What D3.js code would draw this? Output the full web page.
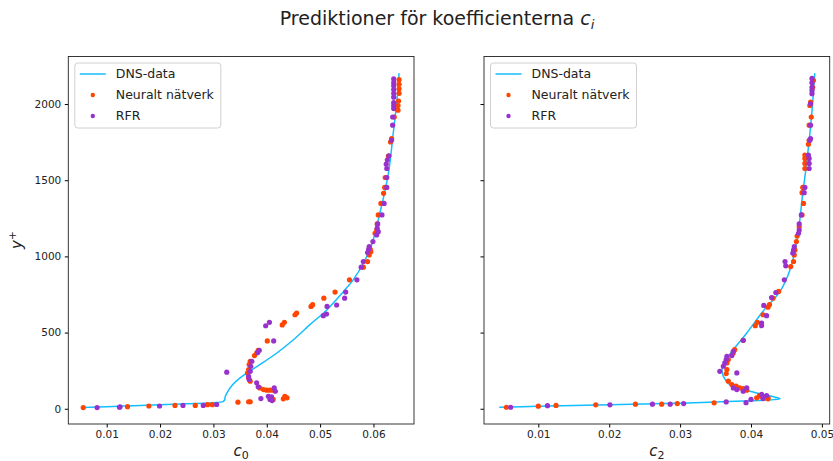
<!DOCTYPE html>
<html>
<head>
<meta charset="utf-8">
<script src="https://cdn.jsdelivr.net/npm/d3@7"></script>
<style>
  body { margin: 0; background: #fff; }
  text { font-family: "DejaVu Sans", sans-serif; fill: #222; }
</style>
</head>
<body>
<script>
// DNS profiles, [c, y+]
const dnsC0 = [[0.0056,8],[0.010,14],[0.015,20],[0.020,27],[0.025,33],[0.030,40],[0.0318,47],[0.0321,58],[0.0322,78],[0.0326,108],
  [0.0336,158],[0.035,203],[0.0365,240],[0.0387,290],[0.0419,366],[0.045,453],[0.0481,552],[0.0513,650],[0.0544,770],[0.0562,846],
  [0.0581,955],[0.0596,1070],[0.0612,1283],[0.0628,1545],[0.0637,1806],[0.0644,2024],[0.0648,2203]];
const dnsC2 = [[0.0045,10],[0.010,16],[0.015,22],[0.020,27],[0.025,32],[0.030,37],[0.035,44],[0.040,53],[0.0432,60],[0.0441,66],
  [0.0434,76],[0.0422,89],[0.0405,107],[0.0389,126],[0.037,159],[0.0361,213],[0.0359,257],[0.0363,312],[0.0375,388],[0.0394,497],
  [0.0417,640],[0.0441,770],[0.0455,912],[0.0465,1108],[0.0473,1414],[0.0479,1632],[0.0485,1900],[0.049,2203]];

// predictions, neural network
const nnC0 = [[0.0056,8],[0.0139,14],[0.0179,18],[0.0228,22],[0.0266,22],[0.0289,27],[0.0298,27],[0.0346,43],[0.0366,46],[0.0369,46],
  [0.0412,61],[0.0431,65],[0.0438,72],[0.0434,82],
  [0.0387,137],[0.0394,126],[0.04,122],[0.0406,122],[0.0412,122],
  [0.0369,181],[0.0366,203],[0.0364,235],[0.0366,257],[0.0367,290],[0.0369,312],
  [0.0377,349],[0.0381,366],[0.0384,384],
  [0.0401,445],[0.0429,550],[0.0433,567],[0.0453,617],[0.0456,628],[0.0483,672],[0.0486,683],[0.0507,726],[0.0528,766],[0.0555,846],
  [0.0581,929],[0.0589,966],[0.0592,1010],[0.0595,1031],[0.0594,1047],[0.0603,1152],[0.0606,1173],[0.0607,1213],[0.0609,1272],
  [0.0614,1348],[0.0619,1414],[0.0621,1453],[0.0622,1518],[0.0628,1658],[0.0632,1751],[0.0634,1773],[0.0639,1915],
  [0.0646,1960],[0.0646,1990],[0.0647,2020],[0.0648,2070],[0.0648,2100],[0.0648,2130],[0.0648,2160]];
const nnC2 = [[0.0055,10],[0.01,17],[0.0125,22],[0.0181,26],[0.0237,30],[0.0274,30],[0.0296,34],[0.0348,39],
  [0.0408,72],[0.0412,87],[0.0414,82],[0.0417,72],[0.0424,72],[0.0424,65],
  [0.0368,181],[0.0373,159],[0.0379,148],[0.0384,137],[0.0389,133],[0.0394,122],
  [0.0366,301],[0.0368,323],[0.0366,257],[0.0365,231],[0.0375,366],[0.0377,388],[0.0389,449],
  [0.0406,545],[0.0409,567],[0.0417,617],[0.0424,667],[0.0426,683],[0.0431,726],[0.0439,770],[0.0456,933],[0.046,966],
  [0.0461,1010],[0.0462,1042],[0.0464,1097],[0.0465,1134],[0.0468,1195],
  [0.0472,1272],[0.0474,1348],[0.0472,1418],[0.0473,1453],[0.0476,1577],[0.0476,1610],[0.0476,1643],[0.0476,1665],
  [0.0481,1736],[0.0482,1762],[0.0482,1861],[0.0485,1915],[0.0483,1991],[0.0484,2013],[0.0487,2110],[0.0488,2155]];

// predictions, RFR
const rfrC0 = [[0.0082,8],[0.0124,10],[0.0125,13],[0.0199,18],[0.0243,22],[0.0281,22],[0.0306,28],
  [0.0325,240],
  [0.0389,67],[0.0403,82],[0.0409,78],[0.0406,61],[0.041,54],
  [0.0381,170],[0.0384,144],[0.0414,137],[0.0416,115],
  [0.0367,192],[0.0366,213],[0.0369,246],[0.037,279],[0.0372,312],
  [0.0383,370],[0.0386,384],
  [0.0398,545],[0.0405,567],[0.0413,445],
  [0.0506,611],[0.0512,622],[0.0513,672],[0.0531,681],[0.0546,726],[0.0548,766],[0.0569,846],
  [0.0577,929],[0.0581,966],[0.0589,1025],[0.0591,1047],[0.0592,1064],[0.0599,1097],[0.0606,1141],[0.0609,1162],
  [0.0607,1185],[0.0608,1213],[0.0616,1272],[0.062,1348],[0.0625,1453],[0.0625,1518],[0.0625,1577],[0.0624,1605],
  [0.0626,1632],[0.0629,1660],[0.0634,1762],[0.0636,1861],[0.0636,1915],
  [0.0638,1970],[0.0638,1990],[0.0638,2010],[0.0638,2045],[0.0638,2070],[0.0638,2095],[0.0638,2120],[0.0638,2140],[0.0638,2165]];
const rfrC2 = [[0.0061,10],[0.0113,20],[0.0201,26],[0.0261,30],[0.0286,30],[0.0305,34],[0.0365,45],[0.0393,40],[0.04,61],
  [0.0415,94],[0.0422,87],[0.0417,67],
  [0.0375,137],[0.038,126],[0.0389,115],[0.0394,137],
  [0.038,235],[0.0356,246],
  [0.0361,279],[0.0363,301],[0.0365,323],[0.0366,344],[0.0373,349],[0.0375,377],[0.0389,449],
  [0.0415,545],[0.0415,563],[0.0422,611],[0.0418,678],[0.0429,730],[0.0435,763],[0.0447,846],[0.0449,938],[0.0448,966],
  [0.0459,1021],[0.046,1042],[0.0461,1064],[0.0467,1152],[0.0468,1173],[0.0468,1213],
  [0.0471,1272],[0.0475,1418],[0.0476,1453],[0.0482,1577],[0.0482,1610],[0.0482,1643],[0.0481,1665],[0.0483,1762],
  [0.0484,1773],[0.0484,1861],[0.0484,2002],[0.0486,2068],[0.0486,2090],[0.0486,2110],[0.0486,2140],[0.0486,2168]];

const yTicks = [0, 500, 1000, 1500, 2000];
const xTicksC0 = [0.01, 0.02, 0.03, 0.04, 0.05, 0.06];
const xTicksC2 = [0.01, 0.02, 0.03, 0.04, 0.05];
const legendLabels = ['DNS-data', 'Neuralt nätverk', 'RFR'];

const colDns = '#12beff';
const colNn = '#ff4500';
const colRfr = '#9932cc';

const W = 833, H = 461;
const plotTop = 56.5, plotBottom = 424;
const panelW = 345.7;

const svg = d3.select('body').append('svg')
  .attr('width', W)
  .attr('height', H);

svg.append('text')
  .attr('x', 437)
  .attr('y', 25)
  .attr('text-anchor', 'middle')
  .style('font-size', '19px')
  .html('Prediktioner för koefficienterna <tspan font-style="italic">c</tspan><tspan font-style="italic" font-size="13px" dy="4">i</tspan>');

const y = d3.scaleLinear().domain([-100, 2312]).range([plotBottom, plotTop]);

function panel(x0, xDomain, xTicks, dns, nn, rfr, sub, showYLabels) {
  const x = d3.scaleLinear().domain(xDomain).range([x0, x0 + panelW]);
  const g = svg.append('g');

  const xAxis = d3.axisBottom(x).tickValues(xTicks).tickFormat(d3.format('.2f')).tickSizeOuter(0).tickSize(3.5).tickPadding(3.5);
  g.append('g')
    .attr('transform', `translate(0,${plotBottom})`)
    .call(xAxis)
    .call(a => a.select('.domain').remove())
    .selectAll('text').style('font-size', '10.5px').style('font-family', '"DejaVu Sans", sans-serif').attr('fill', '#222');

  const yAxis = d3.axisLeft(y).tickValues(yTicks).tickSizeOuter(0).tickSize(3.5).tickPadding(3.5)
    .tickFormat(showYLabels ? d3.format('d') : '');
  g.append('g')
    .attr('transform', `translate(${x0},0)`)
    .call(yAxis)
    .call(a => a.select('.domain').remove())
    .selectAll('text').style('font-size', '10.5px').style('font-family', '"DejaVu Sans", sans-serif').attr('fill', '#222');

  const clip = 'clip' + sub;
  svg.append('clipPath').attr('id', clip)
    .append('rect').attr('x', x0).attr('y', plotTop).attr('width', panelW).attr('height', plotBottom - plotTop);

  const plot = g.append('g').attr('clip-path', `url(#${clip})`);

  const line = d3.line()
    .x(d => x(d[0]))
    .y(d => y(d[1]))
    .curve(d3.curveCatmullRom.alpha(0.5));

  plot.append('path')
    .datum(dns)
    .attr('d', line)
    .attr('fill', 'none')
    .attr('stroke', colDns)
    .attr('stroke-width', 1.5);

  plot.selectAll('.nn').data(nn).enter()
    .append('circle')
    .attr('cx', d => x(d[0]))
    .attr('cy', d => y(d[1]))
    .attr('r', 2.6)
    .attr('fill', colNn);

  plot.selectAll('.rfr').data(rfr).enter()
    .append('circle')
    .attr('cx', d => x(d[0]))
    .attr('cy', d => y(d[1]))
    .attr('r', 2.6)
    .attr('fill', colRfr);

  g.append('rect')
    .attr('x', x0).attr('y', plotTop)
    .attr('width', panelW).attr('height', plotBottom - plotTop)
    .attr('fill', 'none')
    .attr('stroke', '#222')
    .attr('stroke-width', 0.9);

  // x label
  g.append('text')
    .attr('x', x0 + panelW / 2)
    .attr('y', 456)
    .attr('text-anchor', 'middle')
    .style('font-size', '15px')
    .html(`<tspan font-style="italic">c</tspan><tspan font-size="11px" dy="3">${sub}</tspan>`);

  // legend
  const lg = g.append('g').attr('transform', `translate(${x0 + 6.5},${plotTop + 6.5})`);
  lg.append('rect')
    .attr('width', 146).attr('height', 65)
    .attr('rx', 3)
    .attr('fill', '#fff').attr('fill-opacity', 0.8)
    .attr('stroke', '#d0d0d0').attr('stroke-width', 1);
  const rows = [11, 32, 53];
  lg.append('line')
    .attr('x1', 5).attr('x2', 31)
    .attr('y1', rows[0]).attr('y2', rows[0])
    .attr('stroke', colDns).attr('stroke-width', 1.5);
  lg.append('circle').attr('cx', 18).attr('cy', rows[1]).attr('r', 2.2).attr('fill', colNn);
  lg.append('circle').attr('cx', 18).attr('cy', rows[2]).attr('r', 2.2).attr('fill', colRfr);
  lg.selectAll('.lab').data(legendLabels).enter()
    .append('text')
    .attr('x', 41)
    .attr('y', (d, i) => rows[i])
    .attr('dy', '0.35em')
    .style('font-size', '12.5px')
    .text(d => d);
}

panel(68.3, [0.0028, 0.0676], xTicksC0, dnsC0, nnC0, rfrC0, '0', true);
panel(484, [0.00234, 0.0511], xTicksC2, dnsC2, nnC2, rfrC2, '2', false);

svg.append('text')
  .attr('transform', 'translate(22,240) rotate(-90)')
  .attr('text-anchor', 'middle')
  .style('font-size', '15px')
  .html('<tspan font-style="italic">y</tspan><tspan font-size="11px" dy="-6">+</tspan>');
</script>
</body>
</html>
